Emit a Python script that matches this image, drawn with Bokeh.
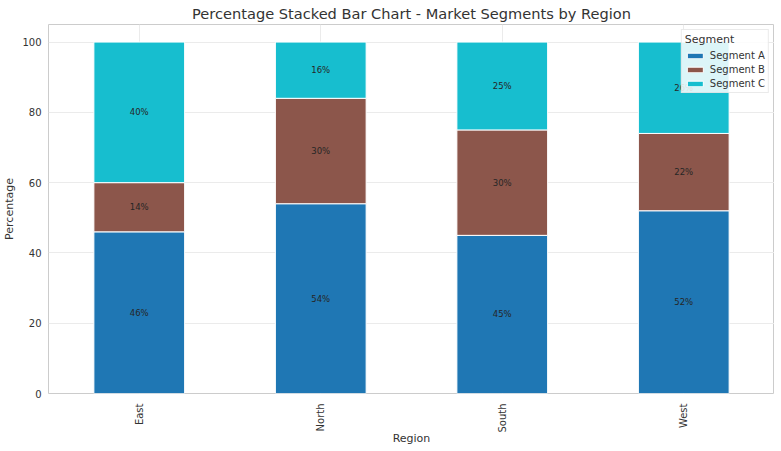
import math
from bokeh.plotting import figure
from bokeh.models import FactorRange, Range1d, ColumnDataSource
from bokeh.embed import file_html
from bokeh.resources import INLINE

regions = ["East", "North", "South", "West"]
segments = ["Segment A", "Segment B", "Segment C"]
seg_a = [46, 54, 45, 52]
seg_b = [14, 30, 30, 22]
seg_c = [40, 16, 25, 26]
colors = ["#1f77b4", "#8c564b", "#17becf"]

FONT = "DejaVu Sans"
TXT = "#333333"

src = ColumnDataSource(data={"region": regions, "Segment A": seg_a,
                             "Segment B": seg_b, "Segment C": seg_c})

p = figure(x_range=FactorRange(factors=regions, range_padding=0),
           y_range=Range1d(0, 105), width=774, height=447,
           output_backend="svg", toolbar_location=None,
           title="Percentage Stacked Bar Chart - Market Segments by Region")

p.vbar_stack(segments, x="region", width=0.5, color=colors, source=src,
             line_color="white", line_width=1, legend_label=segments)

# percentage labels in the middle of every segment
lab_x, lab_y, lab_t = [], [], []
for i, r in enumerate(regions):
    base = 0
    for vals in (seg_a, seg_b, seg_c):
        v = vals[i]
        lab_x.append(r)
        lab_y.append(base + v / 2)
        lab_t.append("%d%%" % v)
        base += v
p.text(x=lab_x, y=lab_y, text=lab_t, text_align="center", text_baseline="middle",
       text_font_size="8.5px", text_color="#262626", text_font={"value": FONT})

p.title.align = "center"
p.title.text_font = FONT
p.title.text_font_size = "14.6px"
p.title.text_font_style = "normal"
p.title.text_color = TXT
p.title.standoff = 5

p.min_border_top = 0
p.min_border_left = 0
p.min_border_right = 0
p.min_border_bottom = 0
p.outline_line_color = "#cccccc"
p.outline_line_width = 1

for ax in (p.xaxis, p.yaxis):
    ax.axis_line_color = None
    ax.major_tick_line_color = None
    ax.minor_tick_line_color = None
    ax.major_tick_out = 0
    ax.major_tick_in = 0
    ax.minor_tick_out = 0
    ax.major_label_text_font = FONT
    ax.major_label_text_font_size = "10px"
    ax.major_label_text_color = TXT
    ax.axis_label_text_font = FONT
    ax.axis_label_text_font_size = "11px"
    ax.axis_label_text_font_style = "normal"
    ax.axis_label_text_color = TXT

p.xaxis.axis_label = "Region"
p.yaxis.axis_label = "Percentage"
p.xaxis.major_label_orientation = math.pi / 2
p.xaxis.major_label_standoff = 10
p.yaxis.major_label_standoff = 7
p.xaxis.axis_label_standoff = -4
p.yaxis.axis_label_standoff = 3
p.yaxis.ticker = [0, 20, 40, 60, 80, 100]

p.xgrid.grid_line_color = "#ebebeb"
p.ygrid.grid_line_color = "#ebebeb"

p.legend.location = "top_right"
p.legend.title = "Segment"
p.legend.title_text_font = FONT
p.legend.title_text_font_size = "11px"
p.legend.title_text_font_style = "normal"
p.legend.title_text_color = TXT
p.legend.title_standoff = 4
p.legend.label_text_font = FONT
p.legend.label_text_font_size = "10px"
p.legend.label_text_color = TXT
p.legend.glyph_width = 20
p.legend.glyph_height = 7
p.legend.spacing = 3
p.legend.padding = 3
p.legend.margin = 5
p.legend.border_line_color = "#d5d5d5"
p.legend.background_fill_alpha = 0.85

open("out.html", "w").write(file_html(p, INLINE))
